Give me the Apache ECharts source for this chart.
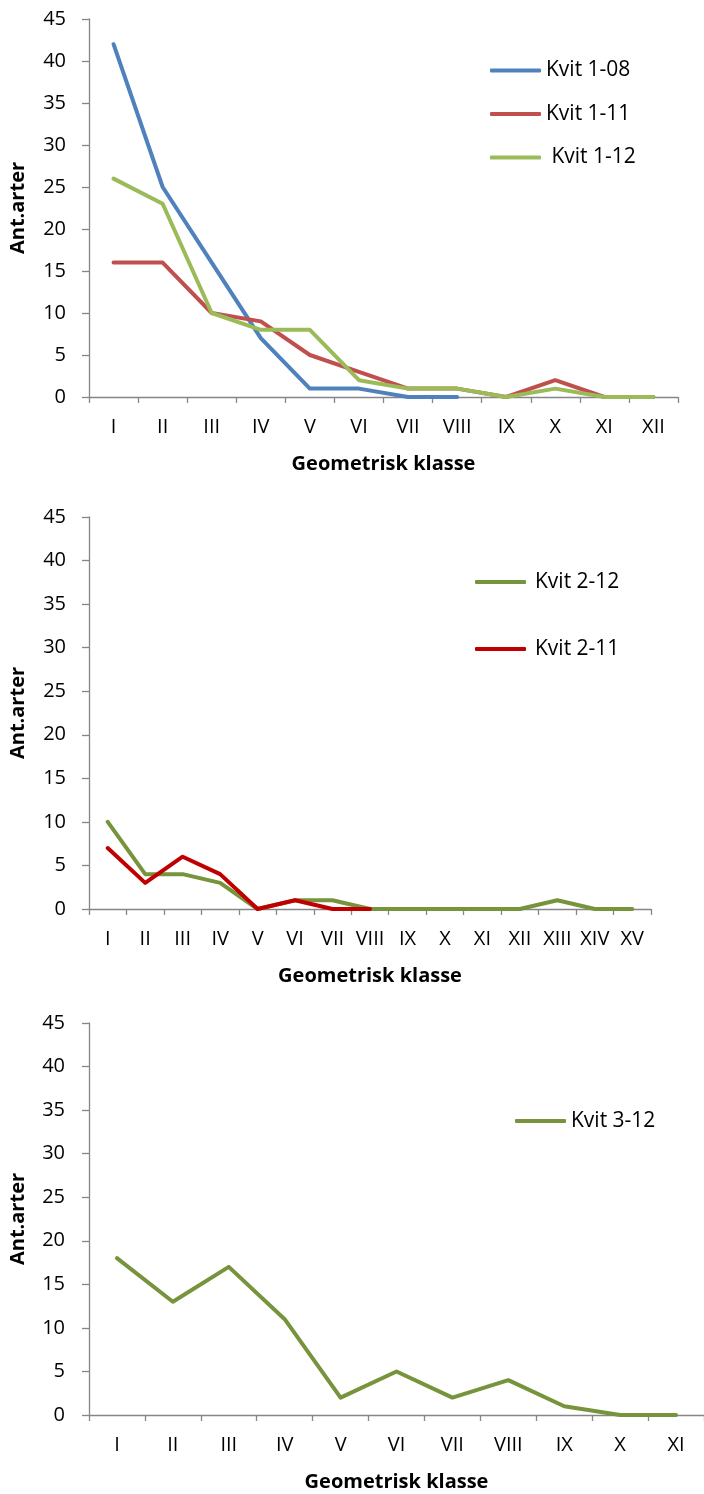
<!DOCTYPE html>
<html>
<head>
<meta charset="utf-8">
<title>Geometrisk klasse – Kvit</title>
<script src="https://cdn.jsdelivr.net/npm/echarts@6/dist/echarts.min.js"></script>
<style>
  html, body { margin: 0; padding: 0; background: #ffffff; }
  #chart { width: 704px; height: 1494px; }
</style>
</head>
<body>
<div id="chart"></div>
<script>
// Category labels (geometric classes) for each panel
const classes1 = ['I', 'II', 'III', 'IV', 'V', 'VI', 'VII', 'VIII', 'IX', 'X', 'XI', 'XII'];
const classes2 = ['I', 'II', 'III', 'IV', 'V', 'VI', 'VII', 'VIII', 'IX', 'X', 'XI', 'XII', 'XIII', 'XIV', 'XV'];
const classes3 = ['I', 'II', 'III', 'IV', 'V', 'VI', 'VII', 'VIII', 'IX', 'X', 'XI'];

// Number of species per class
const kvit108 = [42, 25, 16, 7, 1, 1, 0, 0];
const kvit111 = [16, 16, 10, 9, 5, 3, 1, 1, 0, 2, 0, 0];
const kvit112 = [26, 23, 10, 8, 8, 2, 1, 1, 0, 1, 0, 0];
const kvit212 = [10, 4, 4, 3, 0, 1, 1, 0, 0, 0, 0, 0, 1, 0, 0];
const kvit211 = [7, 3, 6, 4, 0, 1, 0, 0];
const kvit312 = [18, 13, 17, 11, 2, 5, 2, 4, 1, 0, 0];

// Shared y-axis range
const yMin = 0, yMax = 45, yStep = 5;

const FONT = '"Open Sans", "Noto Sans", sans-serif';
const AXIS_GREY = '#868686';

function xAxisFor(gridIndex, cats) {
  return {
    type: 'category', gridIndex: gridIndex, data: cats, boundaryGap: true,
    name: 'Geometrisk klasse', nameLocation: 'middle', nameGap: 57,
    nameTextStyle: { fontFamily: FONT, fontSize: 20, fontWeight: 'bold', color: '#000' },
    axisLine: { show: true, lineStyle: { color: AXIS_GREY, width: 1.3 } },
    axisTick: { show: true, inside: false, length: 6, alignWithLabel: false, interval: 0, lineStyle: { color: AXIS_GREY, width: 1.3 } },
    axisLabel: { interval: 0, margin: 20, fontFamily: FONT, fontSize: 20, color: '#000' },
    splitLine: { show: false }
  };
}

function yAxisFor(gridIndex, margin) {
  return {
    type: 'value', gridIndex: gridIndex, min: yMin, max: yMax, interval: yStep,
    name: 'Ant.arter', nameLocation: 'middle', nameGap: 61, nameRotate: 90,
    nameTextStyle: { fontFamily: FONT, fontSize: 20, fontWeight: 'bold', color: '#000' },
    axisLine: { show: true, lineStyle: { color: AXIS_GREY, width: 1.3 } },
    axisTick: { show: true, inside: false, length: 7, lineStyle: { color: AXIS_GREY, width: 1.3 } },
    axisLabel: { margin: margin, fontFamily: FONT, fontSize: 20, color: '#000' },
    splitLine: { show: false }
  };
}

function lineSeries(name, data, color, idx) {
  return {
    type: 'line', name: name, data: data, xAxisIndex: idx, yAxisIndex: idx,
    symbol: 'none', smooth: false,
    lineStyle: { color: color, width: 4, cap: 'round', join: 'round' },
    itemStyle: { color: color },
    emphasis: { disabled: true }
  };
}

function legendFor(names, left, top, gap, textPad) {
  return {
    orient: 'vertical', left: left, top: top, data: names, padding: 0,
    icon: 'roundRect', itemWidth: 51, itemHeight: 4, itemGap: gap,
    textStyle: { fontFamily: FONT, fontSize: 21, color: '#000', lineHeight: 24, padding: [0, 0, 0, textPad] },
    selectedMode: false
  };
}

const chart = echarts.init(document.getElementById('chart'), null, { renderer: 'canvas' });

chart.setOption({
  animation: false,
  backgroundColor: '#ffffff',
  grid: [
    { left: 86, top: 19, width: 592, height: 378 },
    { left: 89, top: 517, width: 562, height: 392 },
    { left: 89, top: 1023, width: 618, height: 392 }
  ],
  xAxis: [xAxisFor(0, classes1), xAxisFor(1, classes2), xAxisFor(2, classes3)],
  yAxis: [yAxisFor(0, 23), yAxisFor(1, 23), yAxisFor(2, 24)],
  legend: [
    legendFor(['Kvit 1-08', 'Kvit 1-11', ' Kvit 1-12'], 490, 58.5, 19.5, 0),
    legendFor(['Kvit 2-12', 'Kvit 2-11'], 475, 570, 43, 4),
    legendFor(['Kvit 3-12'], 515, 1109, 20, 0)
  ],
  series: [
    lineSeries('Kvit 1-08', kvit108, '#4F81BD', 0),
    lineSeries('Kvit 1-11', kvit111, '#C0504D', 0),
    lineSeries(' Kvit 1-12', kvit112, '#9BBB59', 0),
    lineSeries('Kvit 2-12', kvit212, '#77933C', 1),
    lineSeries('Kvit 2-11', kvit211, '#C00000', 1),
    lineSeries('Kvit 3-12', kvit312, '#77933C', 2)
  ]
});
</script>
</body>
</html>
